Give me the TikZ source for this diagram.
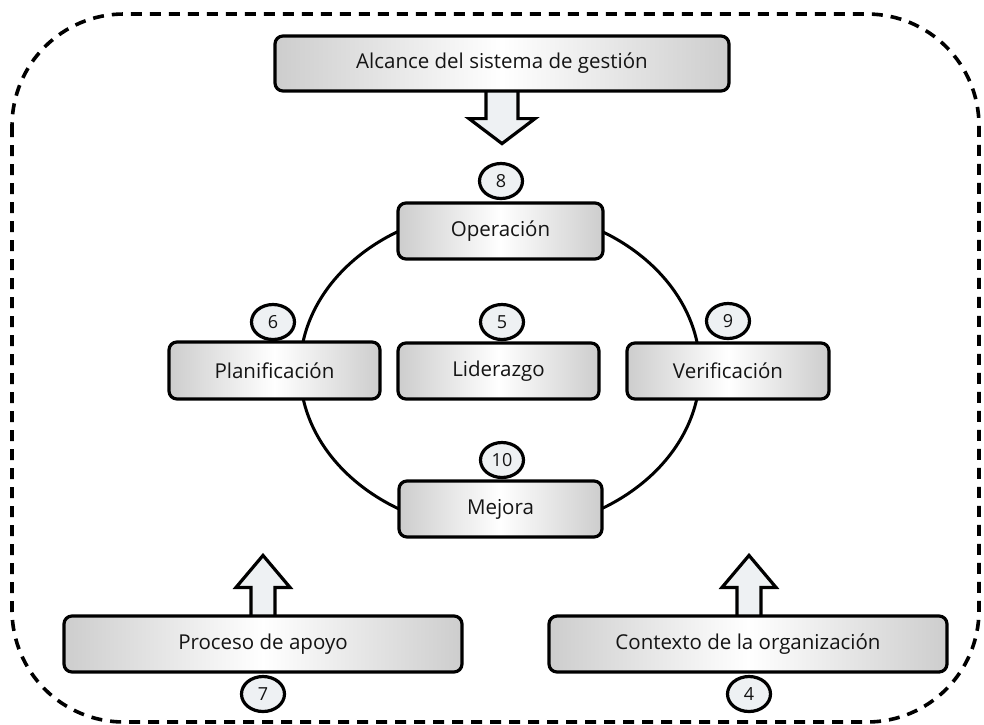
\documentclass[tikz,border=0pt]{standalone}
\usepackage{fontspec}
\setmainfont{Open Sans}
\usetikzlibrary{shapes.geometric,calc}
\pgfdeclarelayer{bg}
\pgfsetlayers{bg,main}
\definecolor{numfill}{HTML}{EEF1F3}
\definecolor{arrfill}{HTML}{EEF1F3}
\definecolor{boxedge}{HTML}{CDCDCD}
\begin{document}
\begin{tikzpicture}[x=1pt,y=-1pt,
  box/.style={draw=black, line width=3.2pt, rounded corners=8pt,
    left color=boxedge, right color=boxedge, middle color=white,
    inner sep=0pt, text=black!92, font=\fontsize{20.5}{24}\selectfont},
  num/.style={draw=black, ellipse, line width=3.2pt, fill=numfill,
    minimum width=43pt, minimum height=35pt, inner sep=0pt,
    text=black!92, font=\fontsize{18}{20}\selectfont},
  barrow/.style={draw=black, line width=3.2pt, fill=arrfill, line join=miter},
  border/.style={draw=black, line width=3.6pt, dash pattern=on 11pt off 8pt, rounded corners=112pt},
  ring/.style={draw=black, line width=3pt}
]
\useasboundingbox (0,0) rectangle (984,724);
\path[border] (12,14) rectangle (979,722);

% boxes
\node[box, minimum width=454pt, minimum height=55pt] (alc) at (502,63.5) {Alcance del sistema de gestión};
\node[box, minimum width=205pt, minimum height=56pt] (op) at (500.5,231) {Operación};
\node[box, minimum width=211pt, minimum height=57pt] (plan) at (274.5,370.5) {Planificación};
\node[box, minimum width=201pt, minimum height=56pt] (lid) at (498.5,371) {Liderazgo};
\node[box, minimum width=202pt, minimum height=56pt] (ver) at (728,371) {Verificación};
\node[box, minimum width=203pt, minimum height=56pt] (mej) at (500.5,509) {Mejora};
\node[box, minimum width=398pt, minimum height=56pt] (proc) at (263,644) {Proceso de apoyo};
\node[box, minimum width=398pt, minimum height=56pt] (ctx) at (748,644) {Contexto de la organización};

% numbers
\node[num] (n8) at (501,181) {8};
\node[num] (n6) at (273,322) {6};
\node[num] (n5) at (502,322) {5};
\node[num] (n9) at (728,321) {9};
\node[num] (n10) at (502,460) {10};
\node[num] (n7) at (263,694) {7};
\node[num] (n4) at (749,694) {4};

\begin{pgfonlayer}{bg}
  \coordinate (ringc) at ($(lid.center)+(1.5,-1)$);
  \draw[ring] (ringc) ellipse [x radius=200, y radius=161];
  % top block arrow
  \draw[barrow] ($(alc.south)+(-16,-6)$) -- ++(0,32) -- ++(-17,0) -- ++(33,25) -- ++(33,-25) -- ++(-17,0) -- ++(0,-32);
  % bottom block arrows
  \draw[barrow] ($(proc.north)+(-12,6)$) -- ++(0,-33) -- ++(-15,0) -- ++(27,-32) -- ++(27,32) -- ++(-15,0) -- ++(0,33);
  \draw[barrow] ($(ctx.north)+(-11,6)$) -- ++(0,-33) -- ++(-15,0) -- ++(27,-32) -- ++(27,32) -- ++(-15,0) -- ++(0,33);
\end{pgfonlayer}
\end{tikzpicture}
\end{document}
